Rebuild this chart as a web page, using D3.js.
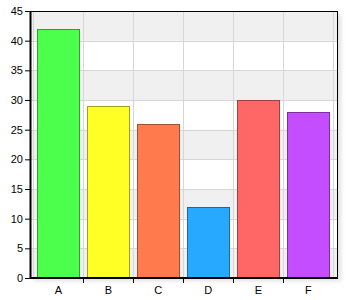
<!DOCTYPE html>
<html>
<head>
<meta charset="utf-8">
<script src="https://cdn.jsdelivr.net/npm/d3@7"></script>
<style>
  body { margin: 0; background: #fff; }
  text { font-family: "Liberation Sans", Arial, sans-serif; font-size: 11px; fill: #000; }
</style>
</head>
<body>
<div id="chart"></div>
<script>
// data
var categories = ["A", "B", "C", "D", "E", "F"];
var values = [42, 29, 26, 12, 30, 28];
var fills = ["#4dff4d", "#ffff26", "#ff7a4d", "#26a9ff", "#ff6666", "#c44dff"];
var strokes = ["#2f9f2f", "#a0a020", "#a04f30", "#1a6a9f", "#9f3f3f", "#7a309f"];
var yTicks = [0, 5, 10, 15, 20, 25, 30, 35, 40, 45];

var W = 350, H = 300;
var plotL = 30, plotT = 11, plotR = 338, plotB = 278;

var svg = d3.select("#chart").append("svg")
  .attr("width", W).attr("height", H);

var defs = svg.append("defs");
var f = defs.append("filter").attr("id", "shadow")
  .attr("x", "-10%").attr("y", "-10%").attr("width", "130%").attr("height", "130%");
f.append("feGaussianBlur").attr("in", "SourceAlpha").attr("stdDeviation", 2);
f.append("feOffset").attr("dx", 3).attr("dy", 3);
f.append("feComponentTransfer").append("feFuncA").attr("type", "linear").attr("slope", 0.12);

var x = d3.scaleBand()
  .domain(categories)
  .range([plotL + 3.3, plotR - 4.7])
  .paddingInner(0.16)
  .paddingOuter(0.08);

var y = d3.scaleLinear().domain([0, 45]).range([plotB, plotT]);

// shadow
svg.append("rect")
  .attr("x", plotL).attr("y", plotT)
  .attr("width", plotR - plotL).attr("height", plotB - plotT)
  .attr("fill", "#000").attr("filter", "url(#shadow)");

// background bands
svg.append("rect")
  .attr("x", plotL).attr("y", plotT)
  .attr("width", plotR - plotL).attr("height", plotB - plotT)
  .attr("fill", "#fff");

svg.selectAll(".band")
  .data(yTicks.slice(0, -1).filter(function(d, i) { return i % 2 === 0; }))
  .enter().append("rect")
  .attr("x", plotL)
  .attr("y", function(d) { return y(d + 5); })
  .attr("width", plotR - plotL)
  .attr("height", function(d) { return y(d) - y(d + 5); })
  .attr("fill", "#f0f0f0");

// grid
var step = x.step();
var bounds = categories.map(function(c) { return x(c) - (step - x.bandwidth()) / 2; });
bounds.push(bounds[bounds.length - 1] + step);

svg.selectAll(".hgrid")
  .data(yTicks.slice(1))
  .enter().append("line")
  .attr("x1", plotL).attr("x2", plotR)
  .attr("y1", function(d) { return Math.round(y(d)) + 0.5; })
  .attr("y2", function(d) { return Math.round(y(d)) + 0.5; })
  .attr("stroke", "#d6d6d6");

svg.selectAll(".vgrid")
  .data(bounds)
  .enter().append("line")
  .attr("x1", function(d) { return Math.round(d) + 0.5; })
  .attr("x2", function(d) { return Math.round(d) + 0.5; })
  .attr("y1", plotT).attr("y2", plotB)
  .attr("stroke", "#d6d6d6");

// bars
svg.selectAll(".bar")
  .data(values)
  .enter().append("rect")
  .attr("x", function(d, i) { return Math.round(x(categories[i])) + 0.5; })
  .attr("y", function(d) { return Math.round(y(d)) + 0.5; })
  .attr("width", Math.round(x.bandwidth()))
  .attr("height", function(d) { return Math.round(plotB - y(d)); })
  .attr("fill", function(d, i) { return fills[i]; })
  .attr("stroke", function(d, i) { return strokes[i]; });

// frame
svg.append("rect")
  .attr("x", plotL + 0.5).attr("y", plotT + 0.5)
  .attr("width", plotR - plotL - 1).attr("height", plotB - plotT - 1)
  .attr("fill", "none").attr("stroke", "#000");
svg.append("line")
  .attr("x1", plotL + 0.5).attr("x2", plotL + 0.5)
  .attr("y1", plotT).attr("y2", plotB + 1)
  .attr("stroke", "#000").attr("stroke-width", 2);
svg.append("line")
  .attr("x1", plotL).attr("x2", plotR)
  .attr("y1", plotB).attr("y2", plotB)
  .attr("stroke", "#000").attr("stroke-width", 2);

// y axis
var yAxis = svg.append("g")
  .attr("transform", "translate(" + plotL + ",0)")
  .call(d3.axisLeft(y).tickValues(yTicks).tickSize(5).tickPadding(2));
yAxis.select(".domain").remove();
yAxis.selectAll("text").style("font-size", "11px").attr("font-family", null);

// x axis ticks at category boundaries
svg.selectAll(".xtick")
  .data(bounds.slice(1, -1))
  .enter().append("line")
  .attr("x1", function(d) { return Math.round(d) + 0.5; })
  .attr("x2", function(d) { return Math.round(d) + 0.5; })
  .attr("y1", plotB).attr("y2", plotB + 5)
  .attr("stroke", "#000");

svg.selectAll(".xlabel")
  .data(categories)
  .enter().append("text")
  .attr("x", function(c) { return x(c) + x.bandwidth() / 2; })
  .attr("y", plotB + 16)
  .attr("text-anchor", "middle")
  .text(function(c) { return c; });
</script>
</body>
</html>
